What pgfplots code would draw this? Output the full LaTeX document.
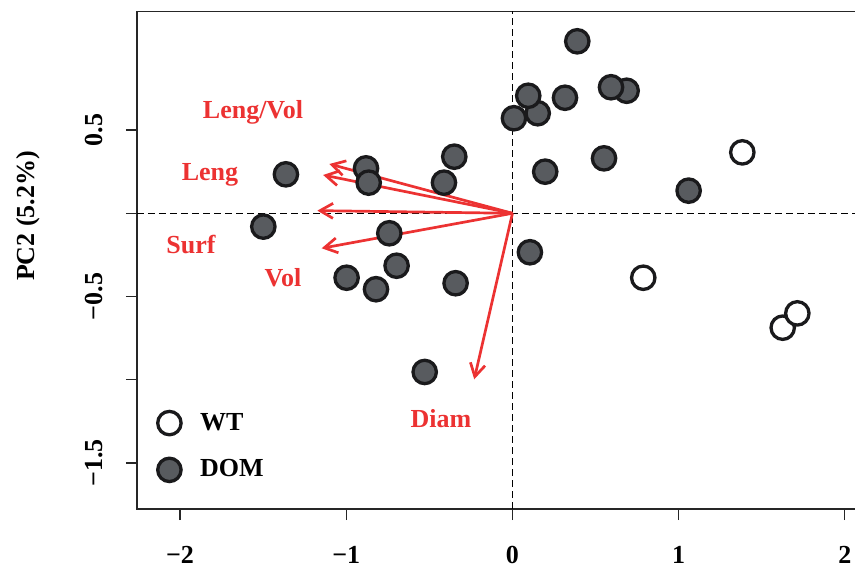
\documentclass[border=0pt]{standalone}
\usepackage{fontspec}
\setmainfont{Liberation Serif}
\usepackage{pgfplots}
\pgfplotsset{compat=1.18}
\usetikzlibrary{arrows.meta}
\definecolor{domgrey}{RGB}{88,91,95}
\definecolor{edge}{RGB}{26,26,28}
\definecolor{arrowred}{RGB}{236,50,50}
\newcommand{\lab}{\fontsize{13}{15}\selectfont\bfseries}

\begin{document}
\begin{tikzpicture}
\begin{axis}[
  scale only axis, width=360pt, height=248.75pt,
  xmin=-2.259, xmax=2.073, ymin=-1.776, ymax=1.212,
  axis line style={line width=0.6pt, black!85},
  tick align=outside, xtick pos=bottom, ytick pos=left,
  major tick length=5.5pt, tick style={line width=0.6pt, black!85},
  xtick={-2,-1,0,1,2}, xticklabels={−2,−1,0,1,2},
  ytick={0.5,0,-0.5,-1,-1.5}, yticklabels={0.5,,−0.5,,−1.5},
  ticklabel style={font=\lab, inner sep=0pt},
  xticklabel shift=13pt,
  yticklabel style={rotate=90, anchor=south},
  yticklabel shift=11.25pt,
  ylabel={PC2 (5.2\%)},
  every axis y label/.style={at={(rel axis cs:-0.1514,0.589)}, rotate=90, anchor=center, font=\lab},
  legend style={draw=none, fill=none, inner sep=0pt, nodes={inner sep=0pt},
    at={(rel axis cs:0.0282,0.197)}, anchor=north west, font=\lab,
    row sep=11.7pt, column sep=9.5pt},
  legend cell align=left,
]
% dashed reference lines
\addplot[forget plot, black, line width=0.6pt, dash pattern=on 3.5pt off 2pt] coordinates {(0,-1.776) (0,1.212)};
\addplot[forget plot, black, line width=0.6pt, dash pattern=on 3.5pt off 2pt] coordinates {(-2.259,0) (2.073,0)};

% WT
\addplot[only marks, mark=*, mark size=5.85pt,
  mark options={draw=edge, fill=white, line width=1.65pt}] coordinates {
  (1.383,0.366) (0.787,-0.387) (1.626,-0.687) (1.714,-0.601)
};
\addlegendentry{WT}

% DOM
\addplot[only marks, mark=*, mark size=5.85pt,
  mark options={draw=edge, fill=domgrey, line width=1.65pt}] coordinates {
  (-1.363,0.234) (-0.881,0.270) (-0.865,0.184) (-1.499,-0.080)
  (-0.741,-0.120) (-0.350,0.340) (-0.412,0.184) (-0.998,-0.387)
  (-0.697,-0.315) (-0.821,-0.456) (-0.342,-0.420) (-0.528,-0.953)
  (0.390,1.033) (0.152,0.601) (0.095,0.706) (0.009,0.571)
  (0.316,0.694) (0.687,0.736) (0.593,0.757) (0.551,0.330)
  (0.197,0.250) (1.060,0.136) (0.105,-0.234)
};
\addlegendentry{DOM}

% loading arrows
\addplot[forget plot, arrowred, line width=1.35pt, -{Straight Barb[angle=60:7.5pt]}] coordinates {(0,0) (-1.102,0.296)};
\addplot[forget plot, arrowred, line width=1.35pt, -{Straight Barb[angle=60:7.5pt]}] coordinates {(0,0) (-1.139,0.230)};
\addplot[forget plot, arrowred, line width=1.35pt, -{Straight Barb[angle=60:7.5pt]}] coordinates {(0,0) (-1.174,0.016)};
\addplot[forget plot, arrowred, line width=1.35pt, -{Straight Barb[angle=60:7.5pt]}] coordinates {(0,0) (-1.148,-0.210)};
\addplot[forget plot, arrowred, line width=1.35pt, -{Straight Barb[angle=60:7.5pt]}] coordinates {(0,0) (-0.230,-0.997)};

\node[font=\lab, text=arrowred, anchor=base] at (axis cs:-1.561,0.571) {Leng/Vol};
\node[font=\lab, text=arrowred, anchor=base] at (axis cs:-1.820,0.196) {Leng};
\node[font=\lab, text=arrowred, anchor=base] at (axis cs:-1.934,-0.244) {Surf};
\node[font=\lab, text=arrowred, anchor=base] at (axis cs:-1.381,-0.441) {Vol};
\node[font=\lab, text=arrowred, anchor=base] at (axis cs:-0.430,-1.285) {Diam};

\coordinate (sw) at (rel axis cs:0,0);
\end{axis}
\pgfresetboundingbox
\path (sw) ++(-68.5pt,-29pt) rectangle ++(427.5pt,283.5pt);
\end{tikzpicture}
\end{document}
